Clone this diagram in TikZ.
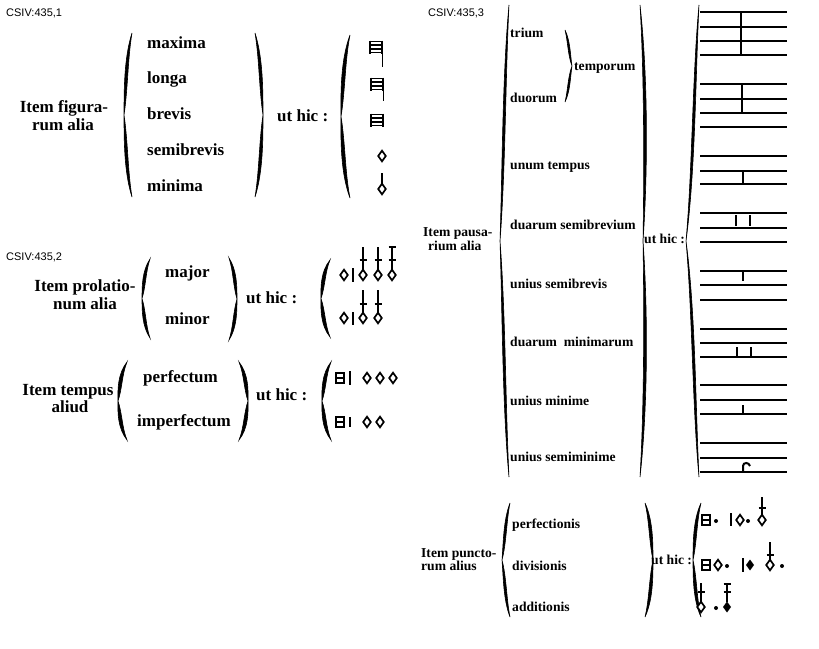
\documentclass[tikz,border=0pt]{standalone}
\usepackage{fontspec}
\setmainfont{Liberation Serif}
\newfontfamily\tagfont{Liberation Sans}
\usepackage{tikz}

% curly bracket: x of the ends, top y, bottom y, bulge, point
\newcommand{\brc}[5]{%
 \filldraw[line width=.6pt]
 ({#1},{#2}) .. controls ({#1+1.33*(#4)},{#2+0.15*(#3-#2)}) and ({#1+1.33*(#4)},{#2+0.35*(#3-#2)}) .. ({#1+(#5)},{(#2+#3)/2})
 .. controls ({#1+1.33*(#4)},{#2+0.65*(#3-#2)}) and ({#1+1.33*(#4)},{#2+0.85*(#3-#2)}) .. ({#1},{#3})
 .. controls ({#1+0.7*(#4)},{#2+0.85*(#3-#2)}) and ({#1+0.7*(#4)},{#2+0.65*(#3-#2)}) .. ({#1+(#5)},{(#2+#3)/2})
 .. controls ({#1+0.7*(#4)},{#2+0.35*(#3-#2)}) and ({#1+0.7*(#4)},{#2+0.15*(#3-#2)}) .. ({#1},{#2}) -- cycle;}
% note heads
\newcommand{\sbv}[2]{\draw[line width=1.7pt,fill=white] ({#1},{#2-5.3}) -- ({#1+3.8},{#2}) -- ({#1},{#2+5.3}) -- ({#1-3.8},{#2}) -- cycle;}
\newcommand{\sbf}[2]{\fill ({#1},{#2-5.5}) -- ({#1+4},{#2}) -- ({#1},{#2+5.5}) -- ({#1-4},{#2}) -- cycle;}
\newcommand{\stm}[3]{\draw[line width=1.3pt] ({#1},{#2}) -- ({#1},{#3});}
\newcommand{\tck}[2]{\draw[line width=1.2pt] ({#1-3.5},{#2}) -- ({#1+3.5},{#2});}
\newcommand{\pnt}[2]{\fill ({#1},{#2}) circle (2);}
\newcommand{\strk}[3]{\draw[line width=2.2pt] ({#1},{#2}) -- ({#1},{#3});}
\newcommand{\brv}[2]{\draw[line width=1.4pt] ({#1-4},{#2-5}) rectangle ({#1+4},{#2+5}) ({#1-4},{#2}) -- ({#1+4},{#2});
 \draw[line width=2.4pt] ({#1-4},{#2-5.5}) -- ({#1-4},{#2+5.5});}
\newcommand{\blk}[2]{\draw[line width=2.6pt] ({#1-6},{#2-6.5}) -- ({#1-6},{#2+6.5}) ({#1+6},{#2-6.5}) -- ({#1+6},{#2+6.5});
 \foreach \k in {-5.5,-2,2,5.5} \draw[line width=1.4pt] ({#1-6},{#2+(\k)}) -- ({#1+6},{#2+(\k)});}

\begin{document}
\begin{tikzpicture}[x=1pt,y=-1pt,
 big/.style={font=\bfseries\fontsize{17}{19}\selectfont,inner sep=0pt,text height=7.8pt,text depth=0pt},
 sml/.style={font=\bfseries\fontsize{13.6}{15}\selectfont,inner sep=0pt,text height=6.2pt,text depth=0pt},
 tag/.style={font=\tagfont\fontsize{11}{12}\selectfont,inner sep=0pt,anchor=west},
 staff/.style={line width=1.3pt},
 rest/.style={line width=2pt}]
\useasboundingbox (0,0) rectangle (819,648);

% figurae
\node at (6,13) [tag] (tagA) {CSIV:435,1};
\node at (64,109) [big] (nameF1) {Item figura-};
\node at (63,127) [big] (nameF2) {rum alia};
\brc{132}{33}{197}{-6}{-8}
\node at (147,45) [big,anchor=west] (elemA1) {maxima};
\node at (147,80) [big,anchor=west] (elemA2) {longa};
\node at (147,116) [big,anchor=west] (elemA3) {brevis};
\node at (147,152) [big,anchor=west] (elemA4) {semibrevis};
\node at (147,188) [big,anchor=west] (elemA5) {minima};
\brc{255}{33}{197}{6}{8}
\node at (277,118) [big,anchor=west] (utA) {ut hic :};
\brc{350}{35}{198}{-7}{-9}
\blk{376}{47} \stm{382.5}{42}{67}
\blk{377}{84} \stm{383.5}{79}{101}
\blk{377}{120}
\sbv{382}{156}
\sbv{382}{189} \stm{382}{184}{173}

% prolationes
\node at (6,257) [tag] (tagB) {CSIV:435,2};
\node at (85,288) [big] (nameP1) {Item prolatio-};
\node at (85,306) [big] (nameP2) {num alia};
\brc{150}{259}{338}{-6}{-8}
\node at (165,274) [big,anchor=west] (elemB1) {major};
\node at (165,321) [big,anchor=west] (elemB2) {minor};
\brc{229}{258}{340}{6}{8}
\node at (246,300) [big,anchor=west] (utB) {ut hic :};
\brc{330}{260}{337}{-7}{-9}
\sbv{344}{275} \strk{353}{268}{282}
\foreach \x in {363,378,392} {\sbv{\x}{275} \stm{\x}{270}{247} \tck{\x}{260}}
\tck{392}{247}
\sbv{344}{318} \strk{353}{312}{325}
\foreach \x in {363,378} {\sbv{\x}{318} \stm{\x}{313}{290} \tck{\x}{304}}

% tempora
\node at (68,392) [big] (nameT1) {Item tempus};
\node at (70,409) [big] (nameT2) {aliud};
\brc{127}{362}{440}{-7}{-9}
\node at (143,379) [big,anchor=west] (elemC1) {perfectum};
\node at (137,423) [big,anchor=west] (elemC2) {imperfectum};
\brc{239}{362}{440}{7}{9}
\node at (256,397) [big,anchor=west] (utC) {ut hic :};
\brc{331}{362}{440}{-7}{-9}
\brv{340}{378} \strk{350}{371}{385}
\foreach \x in {367,380,393} {\sbv{\x}{378}}
\brv{340}{422} \strk{350}{417}{427}
\foreach \x in {367,380} {\sbv{\x}{422}}

% pausae
\node at (428,13) [tag] (tagC) {CSIV:435,3};
\node at (423,233) [sml,anchor=west] (nameR1) {Item pausa-};
\node at (428,247) [sml,anchor=west] (nameR2) {rium alia};
\brc{509}{5}{477}{-5}{-9}
\node at (510,34) [sml,anchor=west] (elemD1) {trium};
\node at (510,99) [sml,anchor=west] (elemD2) {duorum};
\brc{565}{30}{102}{4}{7}
\node at (574,67) [sml,anchor=west] (elemD0) {temporum};
\node at (510,166) [sml,anchor=west] (elemD3) {unum tempus};
\node at (510,226) [sml,anchor=west] (elemD4) {duarum semibrevium};
\node at (510,285) [sml,anchor=west] (elemD5) {unius semibrevis};
\node at (510,343) [sml,anchor=west] (elemD6) {duarum\ \ minimarum};
\node at (510,402) [sml,anchor=west] (elemD7) {unius minime};
\node at (510,458) [sml,anchor=west] (elemD8) {unius semiminime};
\brc{640}{5}{477}{6}{3}
\node at (644,240) [sml,anchor=west] (utD) {ut hic :};
\brc{699}{5}{477}{-5}{-13}
\foreach \y in {12,27,41,55,84,99,113,127,156,171,184,213,228,242,271,285,300,329,343,357,385,400,414,443,458,472}
  \draw[staff] (700,\y) -- (787,\y);
\draw[rest] (741,12) -- (741,55);
\draw[rest] (742,84) -- (742,113);
\draw[rest] (743,171) -- (743,184);
\draw[rest] (736,215) -- (736,226);
\draw[rest] (750,215) -- (750,226);
\draw[rest] (743,271) -- (743,281);
\draw[rest] (737,347) -- (737,357);
\draw[rest] (751,347) -- (751,357);
\draw[rest] (743,405) -- (743,414);
\draw[rest] (743,472) -- (743,466) .. controls (743,462) and (749,462) .. (750,466);

% puncta
\node at (421,554) [sml,anchor=west] (nameS1) {Item puncto-};
\node at (421,567) [sml,anchor=west] (nameS2) {rum alius};
\brc{510}{503}{617}{-5}{-8}
\node at (512,525) [sml,anchor=west] (elemE1) {perfectionis};
\node at (512,567) [sml,anchor=west] (elemE2) {divisionis};
\node at (512,608) [sml,anchor=west] (elemE3) {additionis};
\brc{645}{503}{617}{6}{8}
\node at (651,561) [sml,anchor=west] (utE) {ut hic :};
\brc{701}{503}{617}{-6}{-8}
\brv{706}{520} \pnt{716}{521} \strk{731}{513}{526} \sbv{740}{520} \pnt{748}{521}
\sbv{762}{520} \stm{762}{515}{497} \tck{762}{508}
\brv{706}{565} \sbv{718}{565} \pnt{727}{566} \strk{743}{558}{572} \sbf{750}{565}
\sbv{770}{565} \stm{770}{560}{542} \tck{770}{555} \pnt{782}{566}
\sbv{701}{607} \stm{701}{602}{583} \tck{701}{592} \pnt{716}{608}
\sbf{727}{607} \stm{727}{602}{583} \tck{727}{592} \tck{727}{584}
\end{tikzpicture}
\end{document}
